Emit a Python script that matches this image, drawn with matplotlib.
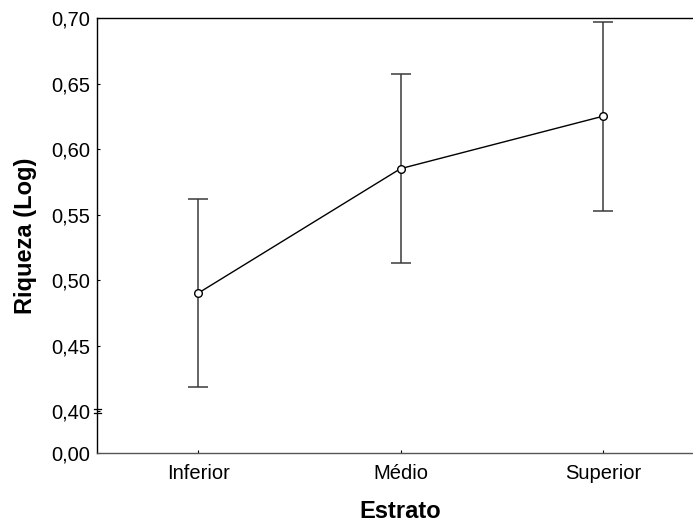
import matplotlib.pyplot as plt
import matplotlib.transforms as mtransforms

plt.rcParams['font.family'] = ['Liberation Sans', 'DejaVu Sans']

categorias = ['Inferior', 'Médio', 'Superior']
media = [0.490, 0.585, 0.625]
erro = [0.072, 0.072, 0.072]

y_ticks = [0.368, 0.40, 0.45, 0.50, 0.55, 0.60, 0.65, 0.70]
y_labels = ['0,00', '0,40', '0,45', '0,50', '0,55', '0,60', '0,65', '0,70']

fig = plt.figure(figsize=(6.93, 5.23), dpi=100)
ax = fig.add_axes([97 / 693, 1 - 453 / 523, (704 - 97) / 693, (453 - 18) / 523])

x = list(range(len(categorias)))
ax.errorbar(x, media, yerr=erro, fmt='none', ecolor='#3a3a3a', elinewidth=1.1,
            capsize=7.3, capthick=1.1, zorder=2)
ax.plot(x, media, color='black', linewidth=1.0, marker='o', markersize=5.5,
        markerfacecolor='white', markeredgecolor='black', markeredgewidth=1.0,
        zorder=3)

ax.set_xlim(-0.5, 2.5)
ax.set_ylim(0.368, 0.70)
ax.set_xticks(x)
ax.set_xticklabels(categorias)
ax.set_yticks(y_ticks)
ax.set_yticklabels(y_labels)

ax.tick_params(axis='both', direction='in', length=2, width=0.8, labelsize=14.5)
ax.tick_params(axis='y', pad=5)
ax.tick_params(axis='x', pad=8)

ax.spines['right'].set_visible(False)
ax.spines['left'].set_color('black')
ax.spines['top'].set_color('black')
ax.spines['bottom'].set_color('#555555')
for s in ax.spines.values():
    s.set_linewidth(1.0)

# marca de quebra do eixo y
trans = mtransforms.blended_transform_factory(ax.transAxes, ax.transData)
for yb in (0.3985, 0.4015):
    ax.plot([-0.005, 0.006], [yb, yb], color='black', linewidth=0.9,
            transform=trans, clip_on=False)

ax.set_xlabel('Estrato', fontsize=17, fontweight='bold', labelpad=12)
ax.set_ylabel('Riqueza (Log)', fontsize=17, fontweight='bold', labelpad=10)

fig.savefig('out.png', dpi=100)
